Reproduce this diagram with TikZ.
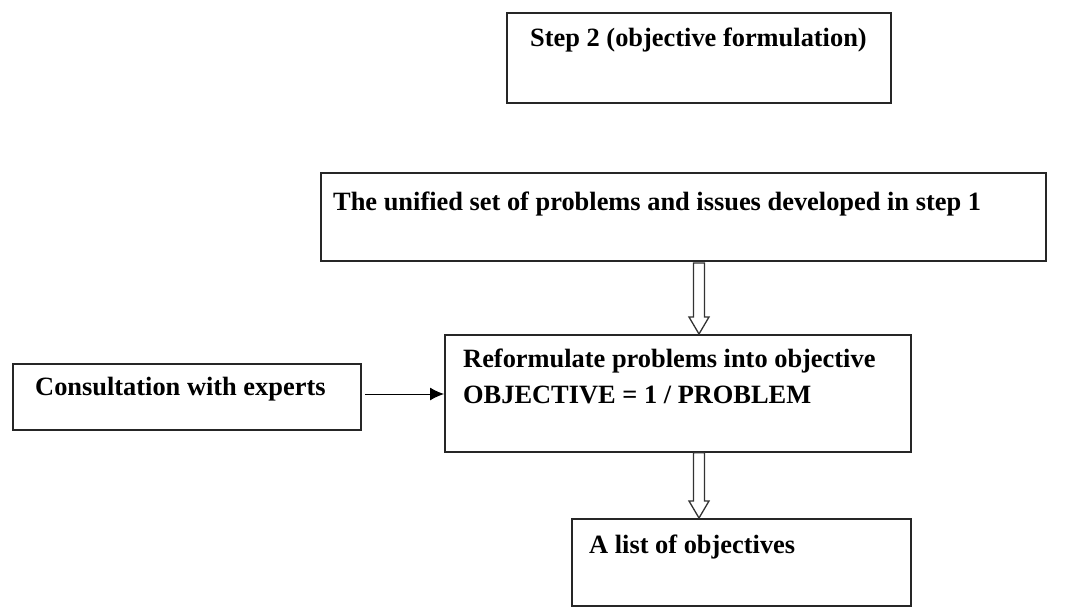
\documentclass[tikz,border=0pt]{standalone}
\usepackage{fontspec}
\setmainfont{Liberation Serif}
\usetikzlibrary{calc,arrows.meta}

\def\shaft{5.5pt}
\def\head{10pt}
\def\headlen{17pt}

\newcommand\hollowarrow[2]{%
  \draw[line width=1.3pt, black!80] let \p1=(#1), \p2=(#2) in
    (\x1-\shaft,\y1) -- (\x1-\shaft,\y2+\headlen) -- (\x1-\head,\y2+\headlen) -- (\x1,\y2)
    -- (\x1+\head,\y2+\headlen) -- (\x1+\shaft,\y2+\headlen) -- (\x1+\shaft,\y1) -- cycle;}

\begin{document}
\begin{tikzpicture}[x=1pt,y=-1pt,
  box/.style={draw=black!85, line width=1.8pt, rectangle, inner sep=0pt, anchor=north west},
  txt/.style={anchor=base west, inner sep=0pt, font=\bfseries\fontsize{26.4}{36}\selectfont}]

\useasboundingbox (0,0) rectangle (1088,606);

\node[box, minimum width=384, minimum height=90] (S) at (506,12) {};
\node[box, minimum width=725, minimum height=88] (U) at (320,172) {};
\node[box, minimum width=466, minimum height=117] (R) at (444,334) {};
\node[box, minimum width=348, minimum height=66] (C) at (12,363) {};
\node[box, minimum width=339, minimum height=87] (L) at (571,518) {};

\node[txt] (St) at (530,46) {Step 2 (objective formulation)};
\node[txt] (Ut) at (333,210) {The unified set of problems and issues developed in step 1};
\node[txt] (Rt1) at (463,367) {Reformulate problems into objective};
\node[txt] (Rt2) at (463,403) {OBJECTIVE = 1 / PROBLEM};
\node[txt] (Ct) at (35,395) {Consultation with experts};
\node[txt] (Lt) at (589,553) {A list of objectives};

\coordinate (A1) at (699,263);
\coordinate (A2) at (R.south -| A1);

\hollowarrow{A1}{A1 |- R.north}
\hollowarrow{A2}{A2 |- L.north}

\draw[-{Latex[length=14pt,width=13pt]}, line width=1pt] ([xshift=3pt]C.east |- 0,394) -- (R.west |- 0,394);

\end{tikzpicture}
\end{document}
